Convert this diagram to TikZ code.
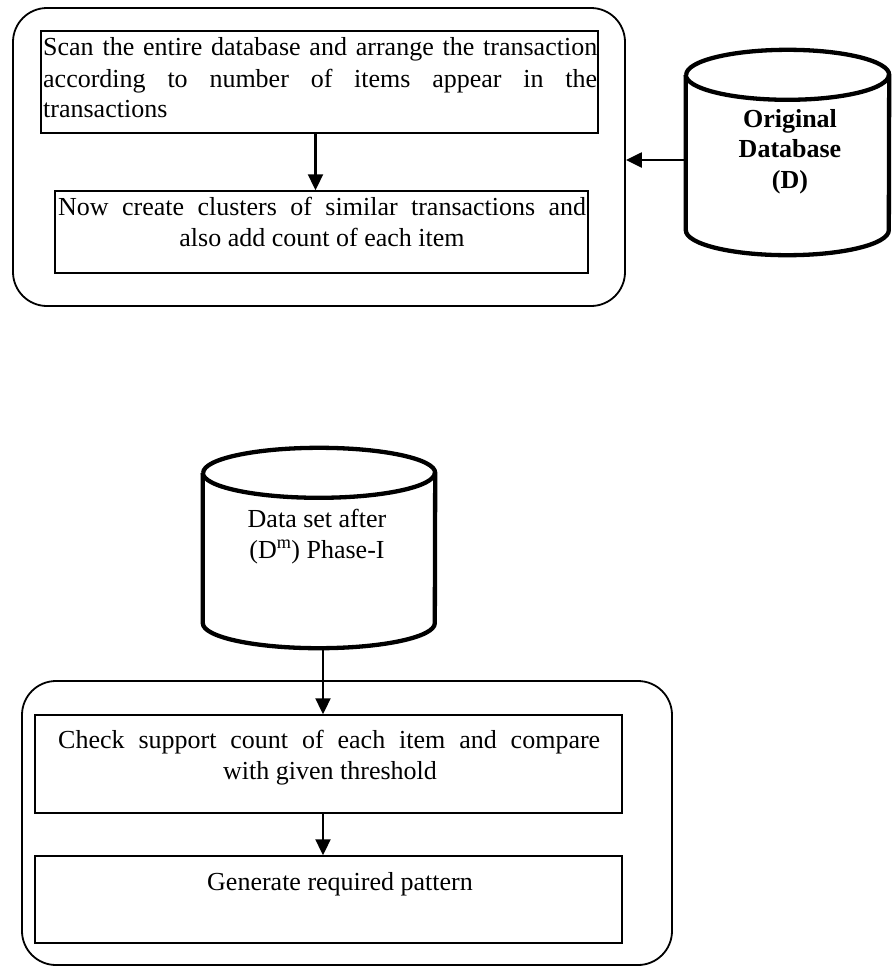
\documentclass[tikz,border=0pt]{standalone}
\usepackage{fontspec}
\setmainfont{Liberation Serif}
\usetikzlibrary{arrows.meta}
\begin{document}
\begin{tikzpicture}[x=1pt,y=1pt,
  outer/.style={draw, line width=1.8pt, rounded corners=34pt, inner sep=0pt},
  stepbox/.style={draw, line width=1.5pt, inner sep=0pt},
  cylbody/.style={inner sep=0pt},
  cylline/.style={line width=4.3pt, line join=round},
  flow/.style={line width=2.3pt, -{Triangle[length=16pt,width=15pt]}},
  txt/.style={inner sep=0pt, font=\fontsize{26}{31}\selectfont},
  btxt/.style={inner sep=0pt, font=\fontsize{26}{31}\selectfont\bfseries},
]
\useasboundingbox (0,0) rectangle (892,-967);

% ---- Phase I: outer frame and its two steps
\node[outer, minimum width=612pt, minimum height=298pt] (outerA) at (319,-157) {};
\node[stepbox, minimum width=557pt, minimum height=102pt] (box1) at (319.5,-82) {};
\node[stepbox, minimum width=533pt, minimum height=82pt] (box2) at (321.5,-232) {};

\node[txt, anchor=base west] (s1) at (43,-55) {\makebox[554pt][s]{Scan the entire database and arrange the transaction}};
\node[txt, anchor=base west] (s2) at (43,-87) {\makebox[554pt][s]{according to number of items appear in the}};
\node[txt, anchor=base west] (s3) at (43,-117) {transactions};
\node[txt, anchor=base west] (n1) at (58,-215) {\makebox[528pt][s]{Now create clusters of similar transactions and}};
\node[txt, anchor=base] (n2) at (322,-246) {also add count of each item};

% ---- original database cylinder
\node[cylbody, minimum width=203pt, minimum height=155pt] (db1) at (787.5,-152.5) {};
\draw[cylline] (db1.north west) -- (db1.south west)
  arc[start angle=180, end angle=360, x radius=101.5, y radius=25]
  -- (db1.north east)
  arc[start angle=0, end angle=180, x radius=101.5, y radius=25];
\draw[cylline] (db1.north west) arc[start angle=180, end angle=360, x radius=101.5, y radius=25];
\node[btxt, anchor=base] (o1) at (790,-127) {Original};
\node[btxt, anchor=base] (o2) at (790,-157) {Database};
\node[btxt, anchor=base] (o3) at (790,-188) {(D)};

% ---- intermediate data set cylinder
\node[cylbody, minimum width=232pt, minimum height=150pt] (db2) at (319,-548) {};
\draw[cylline] (db2.north west) -- (db2.south west)
  arc[start angle=180, end angle=360, x radius=116, y radius=25]
  -- (db2.north east)
  arc[start angle=0, end angle=180, x radius=116, y radius=25];
\draw[cylline] (db2.north west) arc[start angle=180, end angle=360, x radius=116, y radius=25];
\node[txt, anchor=base] (d1) at (317,-527) {Data set after};
\node[txt, anchor=base] (d2) at (317,-558) {(D\textsuperscript{m}) Phase-I};

% ---- Phase II: outer frame and its two steps
\node[outer, minimum width=650pt, minimum height=284pt] (outerB) at (347,-823) {};
\node[stepbox, minimum width=587pt, minimum height=98pt] (box3) at (328.5,-764) {};
\node[stepbox, minimum width=587pt, minimum height=87pt] (box4) at (328.5,-899.5) {};

\node[txt, anchor=base west] (c1) at (58,-748) {\makebox[542pt][s]{Check support count of each item and compare}};
\node[txt, anchor=base] (c2) at (330,-779) {with given threshold};
\node[txt, anchor=base] (g1) at (340,-890) {Generate required pattern};

% ---- connectors
\draw[flow] ([xshift=-4pt]box1.south) -- ([xshift=-4pt]box1.south |- box2.north);
\draw[flow] ([yshift=-7.5pt]db1.west) -- ([yshift=-7.5pt]db1.west -| outerA.east);
\coordinate (db2base) at ([xshift=4pt,yshift=-25pt]db2.south);
\draw[flow] (db2base) -- (db2base |- box3.north);
\draw[flow] (db2base |- box3.south) -- (db2base |- box4.north);
\end{tikzpicture}
\end{document}
